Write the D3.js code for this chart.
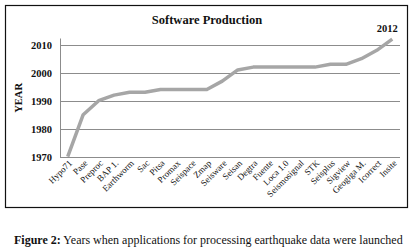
<!DOCTYPE html>
<html>
<head>
<meta charset="utf-8">
<script src="https://cdn.jsdelivr.net/npm/d3@7"></script>
<style>
  body { margin: 0; background: #fff; }
  svg text, svg tspan { font-family: "Liberation Serif", "DejaVu Serif", serif; }
</style>
</head>
<body>
<svg id="chart" width="414" height="251"></svg>
<script>
/////// Data ///////

var programs = ["Hypo71", "Pase", "Preproc", "BAP 1.", "Earthworm", "Sac", "Pitsa", "Promax",
  "Seispace", "Zmap", "Seisware", "Seisan", "Degtra", "Fuente", "Loca 1.0", "Seismosignal",
  "STK", "Seisplus", "Sigview", "Geogiga M.", "Icorrect", "Insite"];
var years = [1970, 1985, 1990, 1992, 1993, 1993, 1994, 1994, 1994, 1994, 1997, 2001,
  2002, 2002, 2002, 2002, 2002, 2003, 2003, 2005, 2008, 2012];
var yearTicks = [1970, 1980, 1990, 2000, 2010];
var lastLabel = "2012";
var title = "Software Production";
var yTitle = "YEAR";
var captionBold = "Figure 2:";
var captionText = " Years when applications for processing earthquake data were launched";

/////// Layout ///////

var serif = "'Liberation Serif', 'DejaVu Serif', serif";

var svg = d3.select("#chart"),
margin = {top: 38, right: 14, bottom: 94, left: 60},
width = 414 - margin.left - margin.right,
height = 251 - margin.top - margin.bottom;

// chart frame
svg.append("rect")
.attr("x", 5.5).attr("y", 5.5)
.attr("width", 402).attr("height", 202)
.attr("fill", "none").attr("stroke", "#111").attr("stroke-width", 1.2);

var g = svg.append("g")
.attr("transform", "translate(" + margin.left + "," + margin.top + ")");

var x = d3.scaleBand().domain(programs).range([0, 340]),
y = d3.scaleLinear().domain([1970, 2012.4]).range([118.7, 0]);

// gridlines
g.selectAll(".grid")
.data(yearTicks)
.enter().append("line")
.attr("x1", 0).attr("x2", 340)
.attr("y1", function(d) { return Math.round(y(d)) + 0.5; })
.attr("y2", function(d) { return Math.round(y(d)) + 0.5; })
.attr("stroke", "#8c8c8c").attr("stroke-width", 1);

// y axis
var yAxis = d3.axisLeft(y).tickValues(yearTicks).tickSize(0).tickPadding(8).tickFormat(d3.format("d"));
var ya = g.append("g").call(yAxis);
ya.select(".domain").attr("stroke", "#8c8c8c");
ya.selectAll("text")
.attr("font-family", serif)
.attr("font-weight", "bold").attr("font-size", "10.5px").attr("fill", "#111");

// x axis labels
var xAxis = d3.axisBottom(x).tickSize(0).tickPadding(0);
var xa = g.append("g")
.attr("transform", "translate(0," + 118.7 + ")")
.call(xAxis);
xa.select(".domain").remove();
xa.selectAll("text")
.attr("font-family", serif)
.attr("font-size", "9px").attr("fill", "#111")
.attr("text-anchor", "end")
.attr("dy", "0")
.attr("transform", "translate(5,7) rotate(-45)");

// line
var line = d3.line()
.x(function(d, i) { return x(programs[i]) + x.bandwidth() / 2; })
.y(function(d) { return y(d); });

g.append("path")
.datum(years)
.attr("d", line)
.attr("fill", "none")
.attr("stroke", "#a6a6a6")
.attr("stroke-width", 3.5)
.attr("stroke-linejoin", "round");

// label of the last point
g.append("text")
.attr("x", x(programs[programs.length - 1]) + x.bandwidth() / 2 - 5)
.attr("y", y(years[years.length - 1]) - 7)
.attr("text-anchor", "middle")
.attr("font-family", serif)
.attr("font-weight", "bold").attr("font-size", "10.5px").attr("fill", "#111")
.text(lastLabel);

// titles
svg.append("text")
.attr("x", 207).attr("y", 24)
.attr("text-anchor", "middle")
.attr("font-family", serif)
.attr("font-weight", "bold").attr("font-size", "12.5px").attr("fill", "#111")
.text(title);

svg.append("text")
.attr("transform", "translate(22," + (margin.top + y(1991)) + ") rotate(-90)")
.attr("text-anchor", "middle")
.attr("font-family", serif)
.attr("font-weight", "bold").attr("font-size", "10.5px").attr("fill", "#111")
.text(yTitle);

// caption
var cap = svg.append("text")
.attr("x", 14).attr("y", 244)
.attr("font-family", serif)
.attr("font-size", "12px").attr("fill", "#111");
cap.append("tspan").attr("font-family", serif).attr("font-weight", "bold").text(captionBold);
cap.append("tspan").attr("font-family", serif).text(captionText);
</script>
</body>
</html>
